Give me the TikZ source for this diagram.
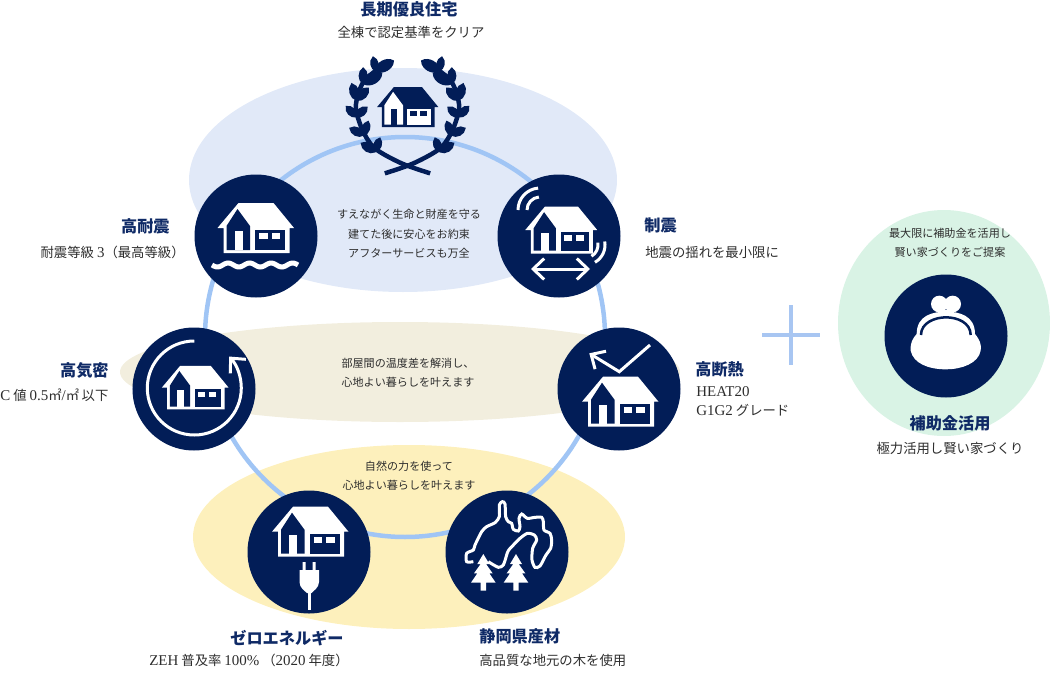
\documentclass[tikz,border=0pt]{standalone}
\usepackage{fontspec}
\usepackage{xcolor}
\setmainfont[Scale=1.12]{Liberation Serif}
\newfontfamily\hscjk{Noto Sans CJK JP}
\usetikzlibrary{arrows.meta}
\definecolor{hsnavy}{RGB}{2,29,87}
\definecolor{hstitle}{RGB}{15,42,102}
\definecolor{hstext}{RGB}{45,45,45}
\definecolor{hsring}{RGB}{160,197,245}
\definecolor{hsplus}{RGB}{168,198,242}
\definecolor{hsblue}{RGB}{225,233,248}
\definecolor{hsbeige}{RGB}{242,238,222}
\definecolor{hsyellow}{RGB}{253,240,188}
\definecolor{hsgreen}{RGB}{217,243,229}
\tikzset{
  hsdisc/.style={circle, fill=hsnavy, minimum size=24.6mm, inner sep=0pt},
  hshead/.style={text=hstitle, inner sep=0pt, font=\hscjk\bfseries\fontsize{9.2}{11}\selectfont},
  hssub/.style={text=hstext, inner sep=0pt, align=left, font=\hscjk\fontsize{7.6}{10.8}\selectfont},
  hsnote/.style={text=hstext, inner sep=0pt, align=center, font=\hscjk\fontsize{6.3}{11}\selectfont},
  hsline/.style={draw=white, line width=.6mm},
  hsbarbs/.style={hsline, {Straight Barb[length=2.2mm,width=4.2mm]}-{Straight Barb[length=2.2mm,width=4.2mm]}},
  hsbarb/.style={hsline, -{Straight Barb[length=2.2mm,width=4.2mm]}}
}
% house icon: x, y, scale, wall colour, room colour
\newcommand{\hshouse}[5]{
  \begin{scope}[shift={(#1,#2)}, scale=#3]
    \fill[#4] (-17,-25) -- (18,-25) -- (38.5,0) -- (34,0) -- (34,25) -- (-32,25) -- (-32,0) -- (-38,0) -- cycle;
    \fill[#5] (-18,-19) -- (-5.5,-2) -- (-5.5,22) -- (-29,22) -- (-29,-2) -- cycle;
    \fill[#4] (-21,3) rectangle (-13,22);
    \fill[#5] (-.5,2) rectangle (29.5,22);
    \fill[#4] (3.5,5.3) rectangle (12,11.3);
    \fill[#4] (16,5.3) rectangle (24.5,11.3);
  \end{scope}
}
\newcommand{\hsleaf}[4]{\filldraw[hsnavy, line width=.3mm] (#1,#2) to[bend left=60] (#3,#4) to[bend left=60] (#1,#2);}
\begin{document}
\begin{tikzpicture}[x=.2mm, y=-.2mm]
  \useasboundingbox (0,0) rectangle (1050,695);
  % backgrounds
  \fill[hsblue] (403,180) ellipse [x radius=214, y radius=112];
  \fill[hsbeige] (400,372) ellipse [x radius=280, y radius=50];
  \fill[hsyellow] (409,537) ellipse [x radius=216, y radius=92];
  \fill[hsgreen] (944,323) ellipse [x radius=106, y radius=113];
  \draw[hsring, line width=.9mm] (405,337) circle [radius=200];
  % discs
  \node[hsdisc] (seismic) at (256,236) {};
  \node[hsdisc] (damper) at (559,236) {};
  \node[hsdisc] (airtight) at (194,389) {};
  \node[hsdisc] (insulation) at (619,389) {};
  \node[hsdisc] (zeh) at (309,552) {};
  \node[hsdisc] (timber) at (507,552) {};
  \node[hsdisc] (subsidy) at (946,336) {};
  % laurel
  \foreach \side in {1,-1} {
    \begin{scope}[shift={(407.5,0)}, xscale=\side/3, yscale=1/3]
      \draw[hsnavy, line width=.9mm, smooth] plot coordinates {(-95,212) (-135,250) (-155,320) (-135,390) (-98,445) (-18,490) (68,520)};
      \foreach \bx/\by/\tx/\ty in {-95/212/-103/172, -95/212/-43/183, -133/250/-133/205, -133/250/-78/220, -152/300/-167/252, -152/300/-118/265, -154/350/-183/320, -154/350/-122/322, -132/405/-172/385, -132/405/-118/365, -97/455/-138/430, -97/455/-83/415} {
        \hsleaf{\bx}{\by}{\tx}{\ty}
      }
    \end{scope}
  }
  \hshouse{407.5}{107}{.8}{hsnavy}{white}
  % icons
  \hshouse{255.5}{228}{1}{white}{hsnavy}
  \draw[hsline, line width=1mm] plot[domain=212:298, samples=60] (\x,{265+2*sin(16.744*(\x-212))});
  \hshouse{561}{230}{.94}{white}{hsnavy}
  \draw[hsline] (518,210) arc [start angle=180, end angle=265, radius=22];
  \draw[hsline] (527,210) arc [start angle=180, end angle=265, radius=13];
  \draw[hsline] (604.7,241.5) arc [start angle=-10, end angle=60, radius=20];
  \draw[hsline] (597.8,242.7) arc [start angle=-10, end angle=60, radius=13];
  \draw[hsbarbs] (531,269) -- (590,269);
  \hshouse{195}{387.5}{.87}{white}{hsnavy}
  \draw[hsbarb] (194.3,341) arc [start angle=270, end angle=-42, radius=47];
  \hshouse{620}{401.7}{1}{white}{hsnavy}
  \draw[hsbarb] (650,345) -- (619.3,371.7) -- (589.3,353.3);
  \hshouse{310}{531.7}{1}{white}{hsnavy}
  \fill[white] (302.5,562) rectangle (305.5,571) (312.5,562) rectangle (315.5,571);
  \fill[white] (299.5,570) -- (319,570) -- (319,582) .. controls (319,588) and (313,591) .. (311.5,593) -- (307,593) .. controls (305,591) and (299.5,588) .. (299.5,582) -- cycle;
  \fill[white] (307.7,593) rectangle (310.7,610);
  \begin{scope}[shift={(440,480)}, scale=1/3]
    \draw[white, line width=.6mm, smooth, tension=.45] plot coordinates {(145,245) (175,262) (190,255) (197,235) (205,212) (225,190) (240,175) (262,160) (283,165) (290,180) (278,205) (276,240) (285,262) (300,258) (318,225) (332,205) (335,180) (330,160) (312,150) (310,125) (305,112) (285,112) (262,115) (245,102) (237,115) (240,140) (235,153) (220,148) (215,130) (205,125) (197,110) (195,72) (187,65) (178,75) (178,110) (165,128) (140,140) (125,155) (105,195) (100,210) (80,220) (80,245) (100,245)};
    \foreach \d in {0,98} {
      \begin{scope}[shift={(\d,0)}]
        \fill[white] (130,222) -- (148,252) -- (138,252) -- (158,280) -- (148,280) -- (167,308) -- (138,308) -- (138,332) -- (122,332) -- (122,308) -- (93,308) -- (112,280) -- (102,280) -- (122,252) -- (112,252) -- cycle;
      \end{scope}
    }
  \end{scope}
  \begin{scope}[shift={(870,260)}, scale=1/3]
    \fill[white] (208,132) circle [radius=25] (248,132) circle [radius=25];
    \fill[white] (205,150) rectangle (250,165);
    \fill[white] (140,222) .. controls (140,165) and (190,155) .. (228,155) .. controls (265,155) and (315,165) .. (315,222) .. controls (330,240) and (335,255) .. (332,272) .. controls (325,310) and (275,328) .. (228,328) .. controls (175,328) and (130,310) .. (122,272) .. controls (120,250) and (128,235) .. (140,222) -- cycle;
    \draw[hsnavy, line width=.5mm] (153,225) .. controls (153,188) and (195,172) .. (228,172) .. controls (262,172) and (302,188) .. (302,225);
  \end{scope}
  % plus
  \draw[hsplus, line width=.8mm] (762,335) -- (820,335) (791,305) -- (791,365);
  % labels
  \node[hshead] (crown) at (409,9) {長期優良住宅};
  \node[hssub] (crownsub) at (411,32) {全棟で認定基準をクリア};
  \node[hsnote] (promise) at (409,234) {すえながく生命と財産を守る\\建てた後に安心をお約束\\アフターサービスも万全};
  \node[hsnote] (comfort) at (408,373) {部屋間の温度差を解消し、\\心地よい暮らしを叶えます};
  \node[hsnote] (nature) at (409,476) {自然の力を使って\\心地よい暮らしを叶えます};
  \node[hsnote] (proposal) at (950,243) {最大限に補助金を活用し\\賢い家づくりをご提案};
  \node[hshead, anchor=east] (seismichead) at (170,226) {高耐震};
  \node[hssub, anchor=east] (seismicsub) at (185,252) {耐震等級 {\rmfamily 3}（最高等級）};
  \node[hshead, anchor=west] (damperhead) at (644,225) {制震};
  \node[hssub, anchor=west] (dampersub) at (645,252) {地震の揺れを最小限に};
  \node[hshead, anchor=east] (airtighthead) at (109,370) {高気密};
  \node[hssub, anchor=west] (airtightsub) at (0,395) {{\rmfamily C} 値 {\rmfamily 0.5}㎡{\rmfamily /}㎡\hspace{.5mm}以下};
  \node[hshead, anchor=west] (insulationhead) at (695,369) {高断熱};
  \node[hssub, anchor=north west] (insulationsub) at (696,386) {{\rmfamily HEAT20}\\{\rmfamily G1G2} グレード};
  \node[hshead] (zehhead) at (287,638) {ゼロエネルギー};
  \node[hssub, anchor=west] (zehsub) at (149,660) {{\rmfamily ZEH} 普及率 {\rmfamily 100\%}\hspace{.6mm}（{\rmfamily 2020} 年度）};
  \node[hshead, anchor=west] (timberhead) at (479,636) {静岡県産材};
  \node[hssub, anchor=west] (timbersub) at (479,660) {高品質な地元の木を使用};
  \node[hshead] (subsidyhead) at (950,423) {補助金活用};
  \node[hssub] (subsidysub) at (950,448) {極力活用し賢い家づくり};
\end{tikzpicture}
\end{document}
